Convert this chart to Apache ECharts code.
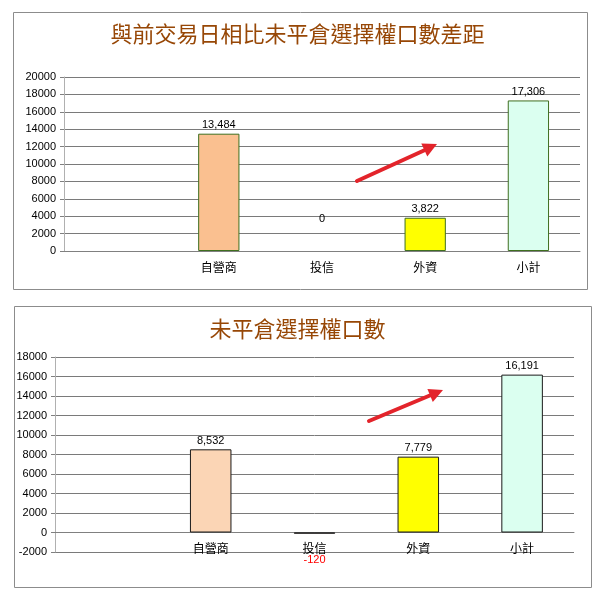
<!DOCTYPE html>
<html><head><meta charset="utf-8">
<script src="https://cdn.jsdelivr.net/npm/echarts@6/dist/echarts.min.js"></script>
<style>html,body{margin:0;padding:0;background:#fff}#c{width:595px;height:600px}</style>
</head><body><div id="c"></div>
<script>
const categories = ['', '自營商', '投信', '外資', '小計'];
const title1 = '與前交易日相比未平倉選擇權口數差距';
const values1 = [null, 13484, 0, 3822, 17306];
const colors1 = [null, '#FAC090', '#FAC090', '#FFFF00', '#DBFFF0'];
const title2 = '未平倉選擇權口數';
const values2 = [null, 8532, -120, 7779, 16191];
const colors2 = [null, '#FBD5B5', '#FBD5B5', '#FFFF00', '#DBFFF0'];

const fmt = v => Number(v).toLocaleString('en-US');
const axisFont = {fontFamily:'Liberation Sans, Arial', fontSize:11, color:'#000', formatter: v => String(v)};
const catFont = {fontFamily:'Noto Sans CJK TC', fontSize:12, color:'#000'};

function mkData(vals, cols, border, special){
  return vals.map((v,i)=>{
    if(v===null) return null;
    const d = {value:v, itemStyle:{color:cols[i], borderColor:border, borderWidth:v===0?0:1}};
    if(special && special[i]) d.label = special[i];
    return d;
  });
}

const chart = echarts.init(document.getElementById('c'), null, {renderer:'canvas'});
chart.setOption({
  animation:false,
  title:[
    {text:title1, left:'center', top:18, textStyle:{fontFamily:'Noto Sans CJK TC', fontWeight:'normal', fontSize:22, color:'#974706'}},
    {text:title2, left:'center', top:313, textStyle:{fontFamily:'Noto Sans CJK TC', fontWeight:'normal', fontSize:22, color:'#974706'}}
  ],
  grid:[
    {left:64, right:15, top:77, bottom:349},
    {left:55, right:21, top:357, bottom:48}
  ],
  xAxis:[
    {type:'category', gridIndex:0, data:categories, axisLine:{lineStyle:{color:'#808080'}}, axisTick:{length:4, lineStyle:{color:'#808080'}}, axisLabel:Object.assign({margin:10},catFont)},
    {type:'category', gridIndex:1, data:categories, offset:-19.5, axisLine:{onZero:false, lineStyle:{color:'#808080'}}, axisTick:{length:4, lineStyle:{color:'#a0a0a0'}}, axisLabel:Object.assign({margin:10},catFont)}
  ],
  yAxis:[
    {type:'value', gridIndex:0, min:0, max:20000, interval:2000, axisLine:{show:true, lineStyle:{color:'#b0b0b0'}}, axisTick:{show:true, length:4, lineStyle:{color:'#808080'}}, axisLabel:Object.assign({margin:8},axisFont), splitLine:{lineStyle:{color:'#7a7a7a'}}},
    {type:'value', gridIndex:1, min:-2000, max:18000, interval:2000, axisLine:{show:true, lineStyle:{color:'#b0b0b0'}}, axisTick:{show:true, length:4, lineStyle:{color:'#808080'}}, axisLabel:Object.assign({margin:8},axisFont), splitLine:{lineStyle:{color:'#7a7a7a'}}}
  ],
  series:[
    {type:'bar', xAxisIndex:0, yAxisIndex:0, barWidth:'40%',
     data:mkData(values1, colors1, '#3F6F1F', {2:{offset:[0,-24]}}),
     label:{show:true, position:'top', distance:3, formatter:p=>fmt(p.value), fontFamily:'Liberation Sans, Arial', fontSize:11, color:'#000'}},
    {type:'bar', xAxisIndex:1, yAxisIndex:1, barWidth:'40%',
     data:mkData(values2, colors2, '#1a1a1a', {2:{position:'bottom', offset:[0,18], color:'#FF0000'}}),
     label:{show:true, position:'top', distance:3, formatter:p=>fmt(p.value), fontFamily:'Liberation Sans, Arial', fontSize:11, color:'#000'}}
  ],
  graphic:[
    {type:'rect', shape:{x:13.5, y:12.5, width:574, height:277}, style:{fill:'none', stroke:'#8c8c8c', lineWidth:1}, z:-1},
    {type:'rect', shape:{x:14.5, y:306.5, width:577, height:281}, style:{fill:'none', stroke:'#8c8c8c', lineWidth:1}, z:-1},
    {type:'line', shape:{x1:357, y1:181, x2:425, y2:150}, style:{stroke:'#E3242B', lineWidth:4, lineCap:'round'}, z:10},
    {type:'polygon', shape:{points:[[437,144],[427.3,156.4],[421.3,143.6]]}, style:{fill:'#E3242B'}, z:10},
    {type:'line', shape:{x1:369, y1:421, x2:431, y2:395}, style:{stroke:'#E3242B', lineWidth:4, lineCap:'round'}, z:10},
    {type:'polygon', shape:{points:[[443,390],[432.8,401.9],[427.4,388.9]]}, style:{fill:'#E3242B'}, z:10}
  ]
});
</script></body></html>
